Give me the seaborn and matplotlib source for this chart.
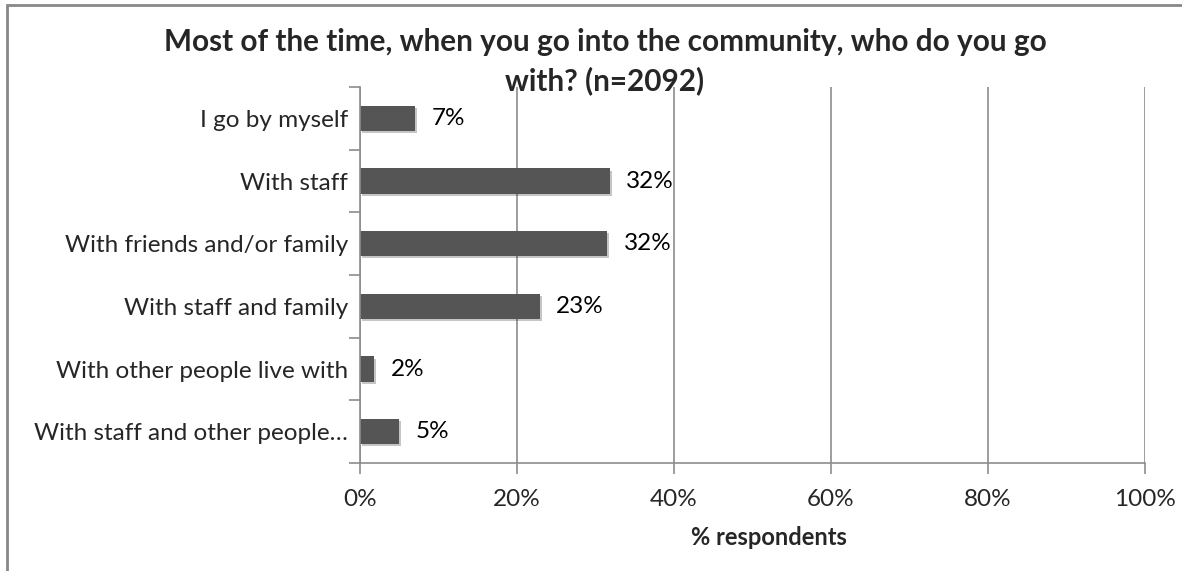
import matplotlib
matplotlib.use("Agg")
import matplotlib.pyplot as plt
import matplotlib.patheffects as pe
import seaborn as sns
import pandas as pd
from matplotlib.patches import Rectangle
from matplotlib.ticker import FuncFormatter, MultipleLocator

categories = ["I go by myself", "With staff", "With friends and/or family",
              "With staff and family", "With other people live with",
              "With staff and other people\u2026"]
values = [7, 31.8, 31.5, 22.9, 1.8, 5.0]
labels = ["7%", "32%", "32%", "23%", "2%", "5%"]
title_lines = ["Most of the time, when you go into the community, who do you go",
               "with? (n=2092)"]

sns.set_theme(style="white")
plt.rcParams['font.family'] = ['Lato', 'DejaVu Sans']

df = pd.DataFrame({"cat": categories, "val": values})

W, H = 1182, 571
fig = plt.figure(figsize=(W / 100, H / 100), dpi=100)
ax = fig.add_axes([360 / W, 1 - 463 / H, (1145 - 360) / W, (463 - 87) / H])

sns.barplot(data=df, y="cat", x="val", color="#555555", width=0.4, ax=ax,
            saturation=1, edgecolor="none")
for p in ax.patches:
    p.set_path_effects([pe.SimplePatchShadow(offset=(1.5, -1.5), alpha=0.25), pe.Normal()])

ax.set_xlim(0, 100)
ax.set_ylim(len(categories) - 0.5, -0.5)
ax.xaxis.set_major_locator(MultipleLocator(20))
ax.xaxis.set_major_formatter(FuncFormatter(lambda v, p: f"{int(v)}%"))
ax.grid(axis="x", color="#8c8c8c", linewidth=1.2)
ax.set_axisbelow(True)
for s in ["top", "right"]:
    ax.spines[s].set_visible(False)
for s in ["left", "bottom"]:
    ax.spines[s].set_color("#8c8c8c")
    ax.spines[s].set_linewidth(1.2)

ax.set_yticks([i for i in range(len(categories))])
ax.set_yticklabels(categories, fontsize=17.5)
ax.tick_params(axis="y", length=0, pad=8.5)
ax.tick_params(axis="x", labelsize=17.5, length=0, pad=11)
ax.set_yticks([i - 0.5 for i in range(len(categories) + 1)], minor=True)
ax.tick_params(axis="y", which="minor", length=8, color="#8c8c8c", width=1.2, left=True)
ax.tick_params(axis="x", which="major", bottom=True, length=8, color="#8c8c8c", width=1.2)
ax.set_xlabel("% respondents", fontsize=17, fontweight="bold")
ax.xaxis.set_label_coords((769 - 360) / 785, (463 - 526) / 376)
ax.set_ylabel("")

for i, (v, t) in enumerate(zip(values, labels)):
    ax.text(v + 2.1, i, t, va="center", ha="left", fontsize=17.5, color="black")

fig.text(605 / W, 1 - 42 / H, title_lines[0], ha="center", va="center",
         fontsize=21.4, fontweight="bold")
fig.text(605 / W, 1 - 81 / H, title_lines[1], ha="center", va="center",
         fontsize=21.4, fontweight="bold")

fig.patches.append(Rectangle((7 / W, -0.1), 1.2, 1 - 5 / H + 0.1, transform=fig.transFigure,
                             fill=False, edgecolor="#888888", linewidth=2, zorder=-1))

fig.savefig("out.png", dpi=100)
